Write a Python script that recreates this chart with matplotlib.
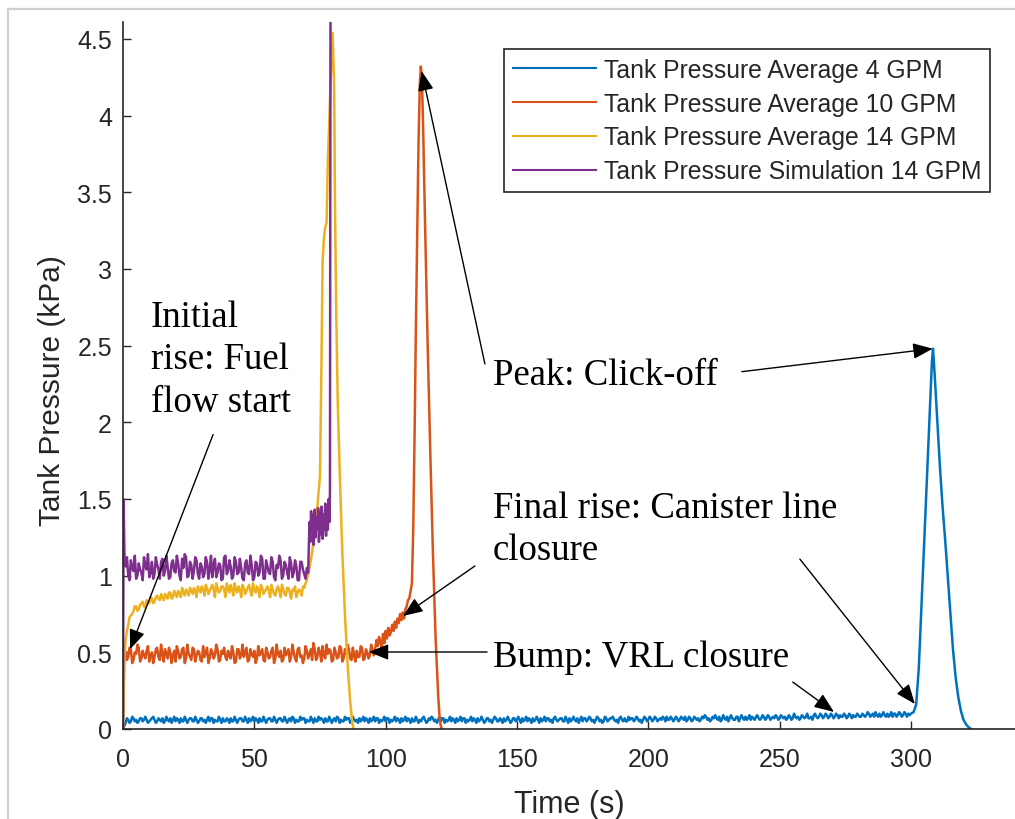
import numpy as np
import matplotlib
matplotlib.use("Agg")
import matplotlib.pyplot as plt
from matplotlib.lines import Line2D
from matplotlib.ticker import FuncFormatter

# ---------------- data ----------------
# Blue: Tank Pressure Average 4 GPM, values at whole seconds t=0..299
blue_plateau = [
    0.00, 0.04, 0.06, 0.05, 0.07, 0.06, 0.05, 0.07, 0.06, 0.06, 0.05, 0.07, 0.06, 0.05, 0.06, 0.07, 0.05, 0.06, 0.07, 0.06,
    0.05, 0.06, 0.07, 0.05, 0.06, 0.06, 0.07, 0.05, 0.06, 0.05, 0.07, 0.06, 0.06, 0.05, 0.07, 0.06, 0.05, 0.06, 0.07, 0.05,
    0.06, 0.07, 0.05, 0.06, 0.06, 0.07, 0.05, 0.06, 0.07, 0.06, 0.05, 0.06, 0.07, 0.05, 0.06, 0.06, 0.07, 0.05, 0.06, 0.06,
    0.07, 0.05, 0.06, 0.06, 0.05, 0.07, 0.06, 0.05, 0.06, 0.07, 0.06, 0.05, 0.06, 0.07, 0.05, 0.06, 0.06, 0.07, 0.05, 0.06,
    0.06, 0.05, 0.07, 0.06, 0.05, 0.06, 0.07, 0.05, 0.06, 0.06, 0.07, 0.06, 0.05, 0.06, 0.07, 0.06, 0.05, 0.07, 0.06, 0.06,
    0.05, 0.07, 0.06, 0.06, 0.05, 0.06, 0.07, 0.06, 0.05, 0.06, 0.07, 0.05, 0.06, 0.06, 0.07, 0.06, 0.05, 0.06, 0.07, 0.06,
    0.06, 0.05, 0.07, 0.06, 0.06, 0.05, 0.06, 0.07, 0.06, 0.05, 0.07, 0.06, 0.06, 0.05, 0.06, 0.07, 0.06, 0.06, 0.05, 0.07,
    0.06, 0.06, 0.07, 0.05, 0.06, 0.07, 0.06, 0.06, 0.05, 0.07, 0.06, 0.06, 0.07, 0.06, 0.05, 0.06, 0.07, 0.06, 0.06, 0.07,
    0.06, 0.05, 0.07, 0.06, 0.07, 0.06, 0.06, 0.07, 0.05, 0.06, 0.07, 0.06, 0.06, 0.07, 0.06, 0.05, 0.07, 0.06, 0.07, 0.06,
    0.06, 0.07, 0.06, 0.05, 0.07, 0.06, 0.07, 0.06, 0.06, 0.07, 0.06, 0.07, 0.05, 0.06, 0.07, 0.06, 0.07, 0.06, 0.06, 0.07,
    0.06, 0.07, 0.06, 0.07, 0.06, 0.06, 0.07, 0.08, 0.06, 0.07, 0.06, 0.07, 0.06, 0.07, 0.08, 0.06, 0.07, 0.06, 0.07, 0.07,
    0.06, 0.07, 0.08, 0.07, 0.06, 0.07, 0.07, 0.08, 0.06, 0.07, 0.08, 0.07, 0.07, 0.06, 0.08, 0.07, 0.07, 0.08, 0.07, 0.06,
    0.07, 0.08, 0.07, 0.07, 0.08, 0.07, 0.08, 0.07, 0.07, 0.08, 0.07, 0.08, 0.08, 0.07, 0.08, 0.07, 0.08, 0.08, 0.07, 0.08,
    0.08, 0.07, 0.08, 0.09, 0.08, 0.08, 0.09, 0.08, 0.09, 0.08, 0.09, 0.08, 0.09, 0.09, 0.08, 0.09, 0.08, 0.09, 0.09, 0.08,
    0.09, 0.08, 0.09, 0.09, 0.10, 0.09, 0.08, 0.09, 0.10, 0.09, 0.09, 0.10, 0.09, 0.08, 0.10, 0.09, 0.10, 0.09, 0.10, 0.10,
]
# Blue values at half seconds t=0.5..299.5
blue_plateau_mid = [
    0.02, 0.07, 0.04, 0.08, 0.05, 0.04, 0.07, 0.05, 0.08, 0.04, 0.06, 0.08, 0.04, 0.07, 0.05, 0.04, 0.08, 0.05, 0.04, 0.08,
    0.07, 0.04, 0.05, 0.08, 0.04, 0.07, 0.05, 0.08, 0.04, 0.07, 0.05, 0.04, 0.08, 0.07, 0.04, 0.05, 0.08, 0.04, 0.05, 0.07,
    0.04, 0.05, 0.08, 0.04, 0.07, 0.05, 0.08, 0.04, 0.05, 0.08, 0.07, 0.04, 0.05, 0.08, 0.04, 0.07, 0.05, 0.08, 0.04, 0.07,
    0.05, 0.08, 0.04, 0.07, 0.08, 0.04, 0.05, 0.08, 0.07, 0.04, 0.05, 0.08, 0.04, 0.05, 0.08, 0.07, 0.04, 0.05, 0.08, 0.04,
    0.07, 0.08, 0.04, 0.05, 0.08, 0.07, 0.04, 0.08, 0.05, 0.04, 0.05, 0.08, 0.07, 0.04, 0.05, 0.08, 0.07, 0.04, 0.05, 0.08,
    0.07, 0.04, 0.05, 0.08, 0.07, 0.04, 0.05, 0.08, 0.07, 0.04, 0.05, 0.08, 0.04, 0.05, 0.08, 0.04, 0.07, 0.08, 0.05, 0.04,
    0.08, 0.07, 0.04, 0.05, 0.08, 0.07, 0.04, 0.05, 0.08, 0.07, 0.04, 0.05, 0.08, 0.07, 0.04, 0.05, 0.08, 0.04, 0.07, 0.05,
    0.04, 0.08, 0.05, 0.07, 0.04, 0.05, 0.08, 0.04, 0.07, 0.05, 0.08, 0.04, 0.05, 0.08, 0.07, 0.04, 0.05, 0.08, 0.04, 0.05,
    0.08, 0.07, 0.05, 0.04, 0.08, 0.05, 0.07, 0.05, 0.08, 0.04, 0.05, 0.08, 0.05, 0.04, 0.08, 0.07, 0.05, 0.08, 0.05, 0.04,
    0.08, 0.05, 0.04, 0.08, 0.05, 0.07, 0.08, 0.05, 0.04, 0.08, 0.05, 0.05, 0.08, 0.07, 0.05, 0.08, 0.05, 0.04, 0.08, 0.05,
    0.08, 0.05, 0.08, 0.05, 0.07, 0.08, 0.05, 0.06, 0.08, 0.05, 0.08, 0.05, 0.08, 0.06, 0.05, 0.08, 0.05, 0.08, 0.06, 0.05,
    0.08, 0.09, 0.06, 0.05, 0.08, 0.09, 0.06, 0.05, 0.09, 0.06, 0.05, 0.09, 0.06, 0.08, 0.05, 0.09, 0.06, 0.06, 0.09, 0.08,
    0.06, 0.09, 0.06, 0.09, 0.06, 0.09, 0.06, 0.08, 0.09, 0.06, 0.09, 0.07, 0.06, 0.09, 0.06, 0.10, 0.07, 0.06, 0.09, 0.07,
    0.10, 0.07, 0.06, 0.10, 0.07, 0.10, 0.07, 0.10, 0.07, 0.10, 0.07, 0.10, 0.07, 0.08, 0.10, 0.07, 0.10, 0.07, 0.08, 0.10,
    0.08, 0.10, 0.08, 0.11, 0.08, 0.10, 0.11, 0.08, 0.08, 0.11, 0.08, 0.08, 0.11, 0.10, 0.08, 0.11, 0.08, 0.11, 0.08, 0.09,
]
blue_peak_t = [300, 301, 302, 303, 304, 305, 306, 307, 308, 308.4, 309, 310, 311, 312, 313, 314, 315, 316, 317, 318, 319, 320, 321, 322, 323]
blue_peak_p = [0.10, 0.11, 0.16, 0.40, 0.80, 1.20, 1.60, 2.00, 2.40, 2.48, 2.32, 2.02, 1.72, 1.46, 1.24, 1.00, 0.76, 0.52, 0.34, 0.21, 0.12, 0.06, 0.03, 0.01, 0.00]

# Orange: Tank Pressure Average 10 GPM
orange_start_t = [0, 0.5]
orange_start_p = [0.00, 0.52]
orange_plateau = [  # t = 1..95
    0.50, 0.47, 0.52, 0.45, 0.49, 0.53, 0.46, 0.48, 0.51, 0.44, 0.50, 0.47, 0.53, 0.45, 0.49, 0.52, 0.46, 0.50, 0.48, 0.44,
    0.51, 0.47, 0.53, 0.46, 0.49, 0.45, 0.52, 0.48, 0.50, 0.44, 0.47, 0.53, 0.46, 0.50, 0.48, 0.52, 0.45, 0.49, 0.47, 0.51,
    0.46, 0.50, 0.44, 0.52, 0.48, 0.47, 0.53, 0.45, 0.49, 0.51, 0.46, 0.48, 0.52, 0.44, 0.50, 0.47, 0.53, 0.46, 0.49, 0.51,
    0.45, 0.48, 0.52, 0.47, 0.50, 0.44, 0.53, 0.48, 0.46, 0.51, 0.49, 0.45, 0.52, 0.47, 0.50, 0.54, 0.46, 0.49, 0.51, 0.45,
    0.50, 0.47, 0.53, 0.46, 0.49, 0.52, 0.45, 0.48, 0.51, 0.47, 0.53, 0.46, 0.50, 0.48, 0.52,
]
orange_plateau_mid = [  # t = 1.5..95.5
    0.45, 0.53, 0.43, 0.50, 0.55, 0.44, 0.51, 0.46, 0.54, 0.48, 0.43, 0.52, 0.47, 0.55, 0.44, 0.49, 0.53, 0.43, 0.51, 0.54,
    0.46, 0.52, 0.43, 0.55, 0.47, 0.53, 0.44, 0.51, 0.45, 0.54, 0.50, 0.43, 0.52, 0.46, 0.55, 0.44, 0.51, 0.53, 0.45, 0.48,
    0.54, 0.43, 0.52, 0.46, 0.55, 0.50, 0.44, 0.52, 0.47, 0.43, 0.54, 0.50, 0.45, 0.53, 0.46, 0.51, 0.43, 0.55, 0.47, 0.44,
    0.53, 0.50, 0.44, 0.55, 0.46, 0.52, 0.47, 0.43, 0.54, 0.46, 0.52, 0.56, 0.45, 0.53, 0.44, 0.48, 0.55, 0.52, 0.44, 0.53,
    0.46, 0.54, 0.44, 0.52, 0.55, 0.46, 0.53, 0.44, 0.47, 0.54, 0.45, 0.52, 0.46, 0.55, 0.48,
]
orange_peak_t = [96, 96.5, 97, 97.5, 98, 98.5, 99, 99.5, 100, 100.5, 101, 101.5, 102, 102.5, 103, 103.5, 104, 104.5, 105, 105.5,
                 106, 106.5, 107, 107.5, 108, 108.5, 109, 109.5, 110, 110.5, 111, 111.5, 112, 112.5,
                 113, 113.4, 113.8, 114.3, 115, 116, 117, 118, 119, 120, 120.6, 121, 121.5]
orange_peak_p = [0.52, 0.58, 0.54, 0.60, 0.57, 0.52, 0.62, 0.56, 0.64, 0.59, 0.66, 0.61, 0.63, 0.68, 0.64, 0.70, 0.66, 0.72, 0.69, 0.75,
                 0.71, 0.76, 0.72, 0.78, 0.80, 0.84, 0.85, 0.90, 0.95, 1.30, 1.90, 2.60, 3.20, 3.80,
                 4.20, 4.32, 4.25, 3.90, 3.30, 2.50, 1.80, 1.15, 0.60, 0.22, 0.06, 0.02, 0.00]

# Yellow: Tank Pressure Average 14 GPM
yellow_start_t = [0, 0.5]
yellow_start_p = [0.00, 0.45]
yellow_plateau = [  # t = 1..69
    0.58, 0.68, 0.74, 0.77, 0.80, 0.78, 0.82, 0.80, 0.84, 0.82,
    0.85, 0.83, 0.87, 0.84, 0.86, 0.88, 0.85, 0.89, 0.86, 0.88,
    0.90, 0.86, 0.89, 0.91, 0.87, 0.90, 0.92, 0.86, 0.91, 0.93,
    0.87, 0.92, 0.90, 0.94, 0.86, 0.92, 0.90, 0.93, 0.86, 0.92,
    0.94, 0.87, 0.91, 0.93, 0.86, 0.92, 0.90, 0.94, 0.87, 0.91,
    0.93, 0.86, 0.92, 0.90, 0.93, 0.86, 0.91, 0.87, 0.93, 0.86,
    0.91, 0.87, 0.92, 0.85, 0.90, 0.86, 0.91, 0.87, 0.92,
]
yellow_plateau_mid = [  # t = 1.5..69.5
    0.64, 0.73, 0.75, 0.80, 0.77, 0.81, 0.83, 0.79, 0.82, 0.86,
    0.82, 0.86, 0.85, 0.88, 0.84, 0.87, 0.89, 0.85, 0.90, 0.86,
    0.88, 0.92, 0.87, 0.89, 0.92, 0.88, 0.90, 0.93, 0.89, 0.91,
    0.94, 0.88, 0.92, 0.91, 0.95, 0.89, 0.93, 0.91, 0.95, 0.89,
    0.91, 0.95, 0.89, 0.91, 0.94, 0.88, 0.92, 0.90, 0.95, 0.89,
    0.91, 0.94, 0.88, 0.91, 0.90, 0.94, 0.88, 0.91, 0.90, 0.94,
    0.88, 0.92, 0.89, 0.91, 0.93, 0.89, 0.90, 0.93, 0.95,
]
yellow_peak_t = [70, 71, 72, 73, 74, 75, 75.5, 76, 76.5, 77, 77.5, 78, 79, 79.8, 80.4, 80.7, 81.2, 81.8, 82.6, 83.5, 84.5, 85.5, 86.5, 87.3, 87.8]
yellow_peak_p = [0.97, 1.05, 1.15, 1.30, 1.45, 1.65, 2.30, 3.05, 3.20, 3.27, 3.30, 3.70, 4.20, 4.54, 4.20, 3.45, 2.70, 2.10, 1.63, 1.15, 0.75, 0.42, 0.18, 0.04, 0.00]

# Purple: Tank Pressure Simulation 14 GPM
purple_start_t = [0, 0.2, 0.6]
purple_start_p = [0.00, 1.50, 1.10]
purple_plateau = [  # t = 1..70
    1.06, 1.00, 1.10, 1.03, 0.98, 1.08, 1.02, 1.12, 1.04, 0.99,
    1.09, 1.01, 1.07, 0.98, 1.11, 1.03, 1.06, 0.99, 1.10, 1.02,
    1.08, 0.97, 1.05, 1.12, 1.00, 1.07, 1.03, 1.10, 0.98, 1.06,
    1.01, 1.09, 1.04, 0.99, 1.11, 1.02, 1.07, 0.98, 1.13, 1.03,
    1.06, 1.00, 1.09, 1.02, 1.05, 0.97, 1.10, 1.01, 1.07, 0.99,
    1.08, 1.02, 1.11, 0.98, 1.06, 1.01, 1.09, 0.97, 1.05, 1.10,
    1.00, 1.07, 0.98, 1.08, 1.02, 1.06, 0.97, 1.09, 1.01, 1.05,
]
purple_plateau_mid = [  # t = 1.5..69.5
    1.12, 0.97, 1.05, 1.13, 1.00, 1.04, 0.97, 1.06, 1.14, 1.02,
    0.98, 1.12, 1.04, 1.09, 1.00, 1.13, 0.98, 1.08, 1.03, 1.13,
    1.00, 1.11, 1.14, 0.99, 1.09, 0.98, 1.12, 1.01, 1.08, 0.99,
    1.12, 0.98, 1.13, 1.07, 0.99, 1.08, 0.97, 1.12, 1.01, 1.10,
    0.98, 1.12, 1.01, 1.11, 0.98, 1.08, 1.02, 1.13, 0.97, 1.09,
    1.00, 1.13, 0.98, 1.10, 1.02, 1.12, 0.99, 1.07, 1.13, 0.98,
    1.09, 1.02, 1.12, 0.99, 1.10, 0.97, 1.09, 1.04, 0.98,
]
purple_peak_t = [70.5, 71, 71.3, 71.6, 72, 72.3, 72.6, 73, 73.3, 73.6, 74, 74.3, 74.6, 75, 75.3, 75.6, 76, 76.3, 76.6,
                 77, 77.3, 77.6, 78, 78.3, 78.6, 78.8, 79.0]
purple_peak_p = [1.02, 1.35, 1.22, 1.42, 1.28, 1.40, 1.20, 1.43, 1.25, 1.38, 1.30, 1.44, 1.22, 1.41, 1.27, 1.45, 1.24, 1.40,
                 1.30, 1.47, 1.26, 1.44, 1.30, 1.50, 1.35, 1.55, 4.61]

series_labels = ["Tank Pressure Average 4 GPM", "Tank Pressure Average 10 GPM",
                 "Tank Pressure Average 14 GPM", "Tank Pressure Simulation 14 GPM"]
series_colors = ["#0072BD", "#D95319", "#EDB120", "#7E2F8E"]

x_ticks = [0, 50, 100, 150, 200, 250, 300]
y_ticks = [0, 0.5, 1, 1.5, 2, 2.5, 3, 3.5, 4, 4.5]

# annotations: (text, text position, vertical alignment)
ann_texts = [
    ("Initial\nrise: Fuel\nflow start", (10.7, 2.803), "top"),
    ("Peak: Click-off", (140.8, 2.249), "baseline"),
    ("Final rise: Canister line\nclosure", (140.8, 1.558), "top"),
    ("Bump: VRL closure", (140.8, 0.411), "baseline"),
]
# arrows: (start, tip) in data units
ann_arrows = [
    ((34.3, 1.92), (2.7, 0.52)),
    ((137.8, 2.38), (113.7, 4.29)),
    ((235.6, 2.33), (308.3, 2.48)),
    ((134.0, 1.063), (106.6, 0.737)),
    ((257.7, 1.108), (301.5, 0.163)),
    ((138.6, 0.502), (93.6, 0.502)),
    ((255.0, 0.306), (270.7, 0.111)),
]


def interleave(a, b):
    out = []
    for x, y in zip(a, b):
        out += [x, y]
    return out


# ---------------- assemble series ----------------
blue_t = interleave(list(range(0, 300)), [s + 0.5 for s in range(0, 300)]) + blue_peak_t
blue_p = interleave(blue_plateau, blue_plateau_mid) + blue_peak_p
orange_t = orange_start_t + interleave(list(range(1, 96)), [s + 0.5 for s in range(1, 96)]) + orange_peak_t
orange_p = orange_start_p + interleave(orange_plateau, orange_plateau_mid) + orange_peak_p
yellow_t = yellow_start_t + interleave(list(range(1, 70)), [s + 0.5 for s in range(1, 70)]) + yellow_peak_t
yellow_p = yellow_start_p + interleave(yellow_plateau, yellow_plateau_mid) + yellow_peak_p
purple_t = purple_start_t + interleave(list(range(1, 70)), [s + 0.5 for s in range(1, 70)]) + [70] + purple_peak_t
purple_p = purple_start_p + interleave(purple_plateau[:69], purple_plateau_mid) + [purple_plateau[69]] + purple_peak_p
all_series = [(blue_t, blue_p), (orange_t, orange_p), (yellow_t, yellow_p), (purple_t, purple_p)]

# ---------------- figure ----------------
W, H = 1015, 820
fig = plt.figure(figsize=(W / 100, H / 100), dpi=100)
fig.patch.set_facecolor("white")

# light gray frame of the screenshot
fig.add_artist(Line2D([8 / W, 8 / W], [0, 1 - 10 / H], transform=fig.transFigure, color="#cfcfcf", lw=1.6))
fig.add_artist(Line2D([8 / W, 1], [1 - 10 / H, 1 - 10 / H], transform=fig.transFigure, color="#cfcfcf", lw=1.6))

ax = fig.add_axes([123 / W, 1 - 730 / H, 893 / W, 707 / H])
for (t, p), lab, col in zip(all_series, series_labels, series_colors):
    ax.plot(t, p, color=col, lw=1.8, label=lab, solid_joinstyle="round")

ax.set_xlim(0, 340)
ax.set_ylim(0, 4.61)
ax.set_xticks(x_ticks)
ax.set_yticks(y_ticks)
ax.yaxis.set_major_formatter(FuncFormatter(lambda v, _: f"{v:g}"))

for side in ["top", "right"]:
    ax.spines[side].set_visible(False)
for side in ["left", "bottom"]:
    ax.spines[side].set_color("#262626")
    ax.spines[side].set_linewidth(1.2)

sans = "Liberation Sans"
ax.tick_params(axis="both", direction="in", length=5.5, width=1.0, color="#262626",
               labelcolor="#262626", labelsize=18)
ax.tick_params(axis="x", pad=13)
ax.tick_params(axis="y", pad=8)
for lbl in ax.get_xticklabels() + ax.get_yticklabels():
    lbl.set_fontfamily(sans)

ax.set_xlabel("Time (s)", fontsize=22, family=sans, color="#262626")
ax.set_ylabel("Tank Pressure (kPa)", fontsize=21.5, family=sans, color="#262626")
ax.xaxis.set_label_coords(0.5, -0.085)
ax.yaxis.set_label_coords(-0.064, 0.48)

leg = ax.legend(loc="upper right", bbox_to_anchor=(990 / W, 1 - 50 / H), bbox_transform=fig.transFigure,
                borderaxespad=0, frameon=True, fancybox=False, framealpha=1, edgecolor="#262626",
                prop={"family": sans, "size": 17.8}, handlelength=3.35, handletextpad=0.33,
                borderpad=0.35, labelspacing=0.4)
leg.get_frame().set_linewidth(1.2)
for line in leg.get_lines():
    line.set_linewidth(1.5)
for t in leg.get_texts():
    t.set_color("#262626")

serif = "Liberation Serif"
for txt, (tx, ty), va in ann_texts:
    ax.text(tx, ty, txt, family=serif, fontsize=26.5, color="black", ha="left", va=va, linespacing=1.3)

for (sx, sy), (ex, ey) in ann_arrows:
    ax.annotate("", xy=(ex, ey), xytext=(sx, sy),
                arrowprops=dict(arrowstyle="-|>,head_length=0.55,head_width=0.22", color="black",
                                lw=1.0, shrinkA=0, shrinkB=0, mutation_scale=22))

fig.savefig("out.png", dpi=100, facecolor="white")
